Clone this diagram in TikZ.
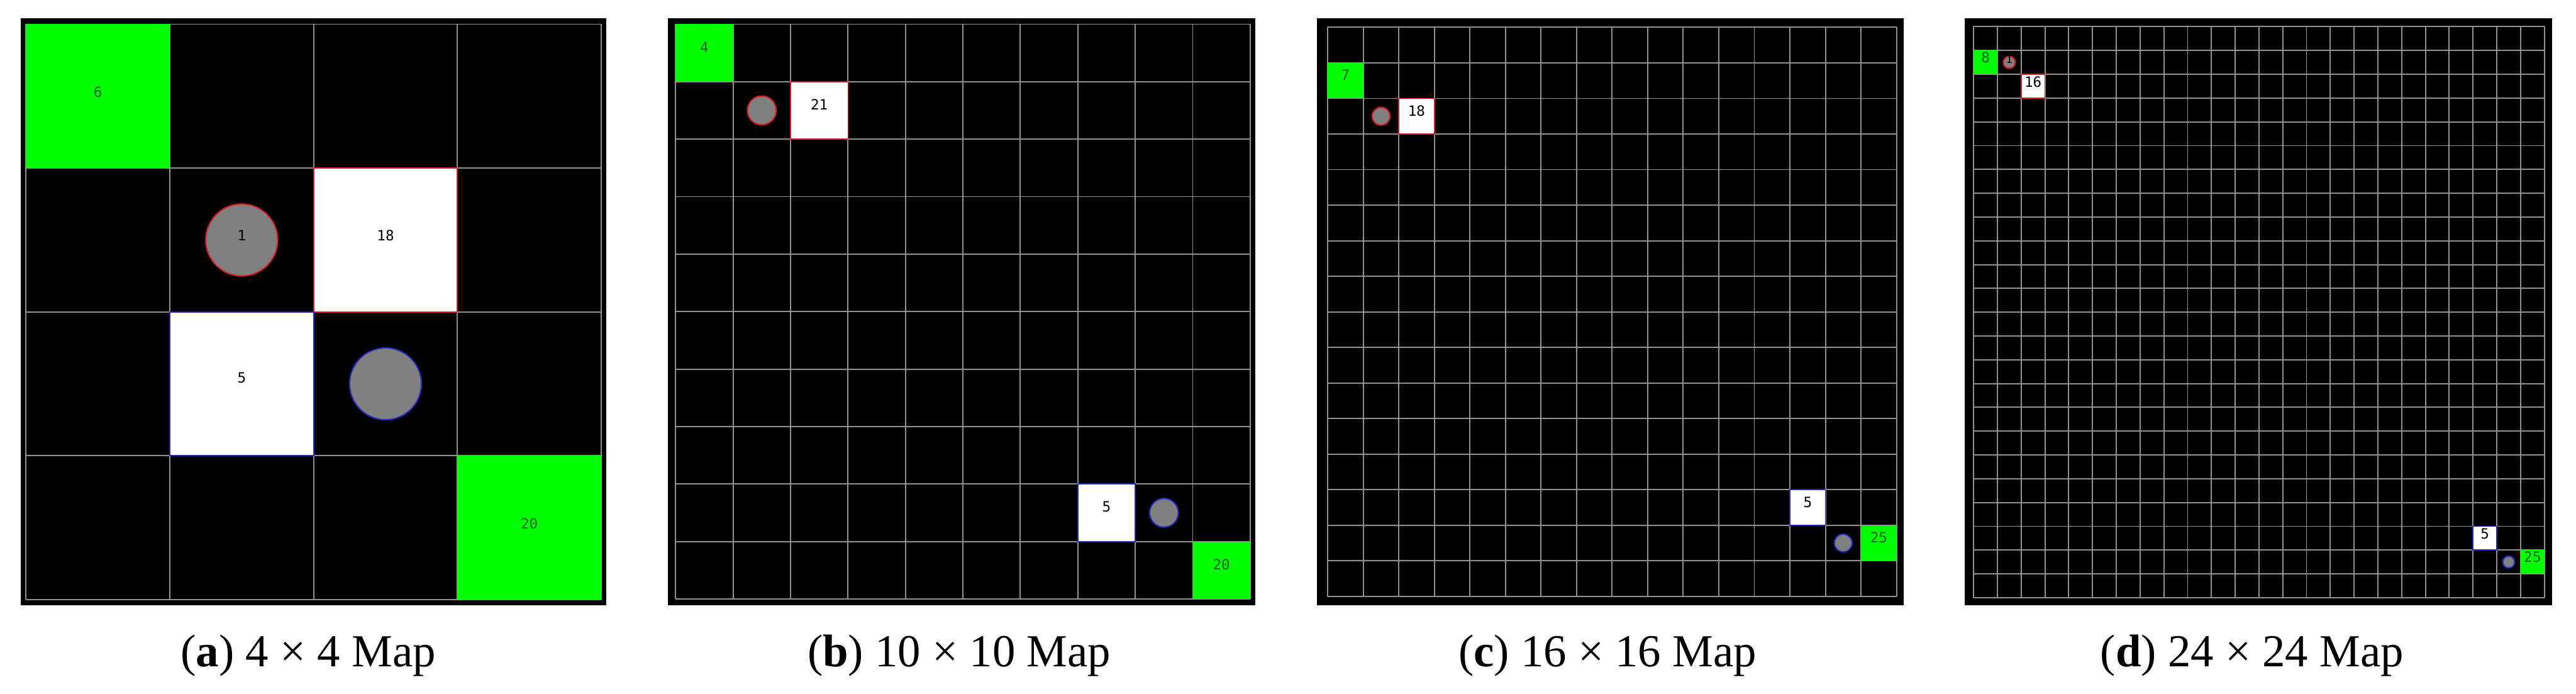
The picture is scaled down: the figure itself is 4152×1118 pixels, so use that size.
\documentclass[tikz,border=0pt]{standalone}
\usepackage{fontspec}
\setmainfont{Liberation Serif}
\setmonofont{DejaVu Sans Mono}
\usepackage{tikz}
\definecolor{mapgreen}{RGB}{0,255,0}
\definecolor{gridgray}{RGB}{145,145,145}
\definecolor{dotgray}{RGB}{128,128,128}
\definecolor{numgreen}{RGB}{20,95,20}
\definecolor{edgered}{RGB}{215,30,40}
\definecolor{edgeblue}{RGB}{40,40,190}
\tikzstyle{frame} = [fill=black]
\tikzstyle{gridline} = [draw=gridgray, line width=0.55pt]
\tikzstyle{goal} = [rectangle, fill=mapgreen, inner sep=0pt]
\tikzstyle{crate} = [rectangle, fill=white, inner sep=0pt, line width=0.5pt]
\tikzstyle{agent} = [circle, fill=dotgray, inner sep=0pt, line width=0.6pt]
\tikzstyle{num} = [inner sep=0pt, font=\ttfamily\fontsize{6.5}{7}\selectfont]
\tikzstyle{caption} = [anchor=base, inner sep=0pt, font=\fontsize{21}{24}\selectfont]

\begin{document}
\begin{tikzpicture}[x=0.01cm, y=-0.01cm]
        \useasboundingbox (0,0) rectangle (4152,1118);

        % Mapa 4 x 4
        \fill[frame] (33,29) rectangle (977,975);
        \begin{scope}[shift={(42,39)}]
            \def\cs{231.75}
            \foreach \k in {0,...,4} {
                \draw[gridline] (\k*\cs,0) -- (\k*\cs,4*\cs);
                \draw[gridline] (0,\k*\cs) -- (4*\cs,\k*\cs);
            }
            \node[goal, minimum size=\cs*0.01cm] (a-goal6) at (0.5*\cs,0.5*\cs) {};
            \node[num, text=numgreen] (a-n6) at (0.5*\cs,0.47*\cs) {6};
            \node[agent, draw=edgered, minimum size=0.5*\cs*0.01cm] (a-agent1) at (1.5*\cs,1.5*\cs) {};
            \node[num] (a-n1) at (1.5*\cs,1.47*\cs) {1};
            \node[crate, draw=edgered, minimum size=\cs*0.01cm] (a-box18) at (2.5*\cs,1.5*\cs) {};
            \node[num] (a-n18) at (2.5*\cs,1.47*\cs) {18};
            \node[crate, draw=edgeblue, minimum size=\cs*0.01cm] (a-box5) at (1.5*\cs,2.5*\cs) {};
            \node[num] (a-n5) at (1.5*\cs,2.46*\cs) {5};
            \node[agent, draw=edgeblue, minimum size=0.5*\cs*0.01cm] (a-agent2) at (2.5*\cs,2.5*\cs) {};
            \node[goal, minimum size=\cs*0.01cm] (a-goal20) at (3.5*\cs,3.5*\cs) {};
            \node[num, text=numgreen] (a-n20) at (3.5*\cs,3.47*\cs) {20};
        \end{scope}
        \node[caption] (a-cap) at (497,1074) {(\textbf{a}) 4 × 4 Map};

        % Mapa 10 x 10
        \fill[frame] (1077,29) rectangle (2023,975);
        \begin{scope}[shift={(1089,39)}]
            \def\cs{92.6}
            \foreach \k in {0,...,10} {
                \draw[gridline] (\k*\cs,0) -- (\k*\cs,10*\cs);
                \draw[gridline] (0,\k*\cs) -- (10*\cs,\k*\cs);
            }
            \node[goal, minimum size=\cs*0.01cm] (b-goal4) at (0.5*\cs,0.5*\cs) {};
            \node[num, text=numgreen] (b-n4) at (0.5*\cs,0.4*\cs) {4};
            \node[agent, draw=edgered, minimum size=0.5*\cs*0.01cm] (b-agent1) at (1.5*\cs,1.5*\cs) {};
            \node[crate, draw=edgered, minimum size=\cs*0.01cm] (b-box21) at (2.5*\cs,1.5*\cs) {};
            \node[num] (b-n21) at (2.5*\cs,1.4*\cs) {21};
            \node[crate, draw=edgeblue, minimum size=\cs*0.01cm] (b-box5) at (7.5*\cs,8.5*\cs) {};
            \node[num] (b-n5) at (7.5*\cs,8.4*\cs) {5};
            \node[agent, draw=edgeblue, minimum size=0.5*\cs*0.01cm] (b-agent2) at (8.5*\cs,8.5*\cs) {};
            \node[goal, minimum size=\cs*0.01cm] (b-goal20) at (9.5*\cs,9.5*\cs) {};
            \node[num, text=numgreen] (b-n20) at (9.5*\cs,9.4*\cs) {20};
        \end{scope}
        \node[caption] (b-cap) at (1546,1074) {(\textbf{b}) 10 × 10 Map};

        % Mapa 16 x 16
        \fill[frame] (2123,29) rectangle (3068,975);
        \begin{scope}[shift={(2140,44)}]
            \def\cs{57.3}
            \foreach \k in {0,...,16} {
                \draw[gridline] (\k*\cs,0) -- (\k*\cs,16*\cs);
                \draw[gridline] (0,\k*\cs) -- (16*\cs,\k*\cs);
            }
            \node[goal, minimum size=\cs*0.01cm] (c-goal7) at (0.5*\cs,1.5*\cs) {};
            \node[num, text=numgreen] (c-n7) at (0.5*\cs,1.35*\cs) {7};
            \node[agent, draw=edgered, minimum size=0.5*\cs*0.01cm] (c-agent1) at (1.5*\cs,2.5*\cs) {};
            \node[crate, draw=edgered, minimum size=\cs*0.01cm] (c-box18) at (2.5*\cs,2.5*\cs) {};
            \node[num] (c-n18) at (2.5*\cs,2.35*\cs) {18};
            \node[crate, draw=edgeblue, minimum size=\cs*0.01cm] (c-box5) at (13.5*\cs,13.5*\cs) {};
            \node[num] (c-n5) at (13.5*\cs,13.35*\cs) {5};
            \node[agent, draw=edgeblue, minimum size=0.5*\cs*0.01cm] (c-agent2) at (14.5*\cs,14.5*\cs) {};
            \node[goal, minimum size=\cs*0.01cm] (c-goal25) at (15.5*\cs,14.5*\cs) {};
            \node[num, text=numgreen] (c-n25) at (15.5*\cs,14.35*\cs) {25};
        \end{scope}
        \node[caption] (c-cap) at (2591,1074) {(\textbf{c}) 16 × 16 Map};

        % Mapa 24 x 24
        \fill[frame] (3167,29) rectangle (4113,975);
        \begin{scope}[shift={(3181,43)}]
            \def\cs{38.33}
            \foreach \k in {0,...,24} {
                \draw[gridline] (\k*\cs,0) -- (\k*\cs,24*\cs);
                \draw[gridline] (0,\k*\cs) -- (24*\cs,\k*\cs);
            }
            \node[goal, minimum size=\cs*0.01cm] (d-goal8) at (0.5*\cs,1.5*\cs) {};
            \node[num, text=numgreen] (d-n8) at (0.5*\cs,1.3*\cs) {8};
            \node[agent, draw=edgered, minimum size=0.5*\cs*0.01cm] (d-agent1) at (1.5*\cs,1.5*\cs) {};
            \node[num, font=\ttfamily\fontsize{5}{5}\selectfont] (d-n1) at (1.5*\cs,1.37*\cs) {1};
            \node[crate, draw=edgered, minimum size=\cs*0.01cm] (d-box16) at (2.5*\cs,2.5*\cs) {};
            \node[num] (d-n16) at (2.5*\cs,2.32*\cs) {16};
            \node[crate, draw=edgeblue, minimum size=\cs*0.01cm] (d-box5) at (21.5*\cs,21.5*\cs) {};
            \node[num] (d-n5) at (21.5*\cs,21.32*\cs) {5};
            \node[agent, draw=edgeblue, minimum size=0.5*\cs*0.01cm] (d-agent2) at (22.5*\cs,22.5*\cs) {};
            \node[goal, minimum size=\cs*0.01cm] (d-goal25) at (23.5*\cs,22.5*\cs) {};
            \node[num, text=numgreen] (d-n25) at (23.5*\cs,22.3*\cs) {25};
        \end{scope}
        \node[caption] (d-cap) at (3630,1074) {(\textbf{d}) 24 × 24 Map};
    \end{tikzpicture}
\end{document}
